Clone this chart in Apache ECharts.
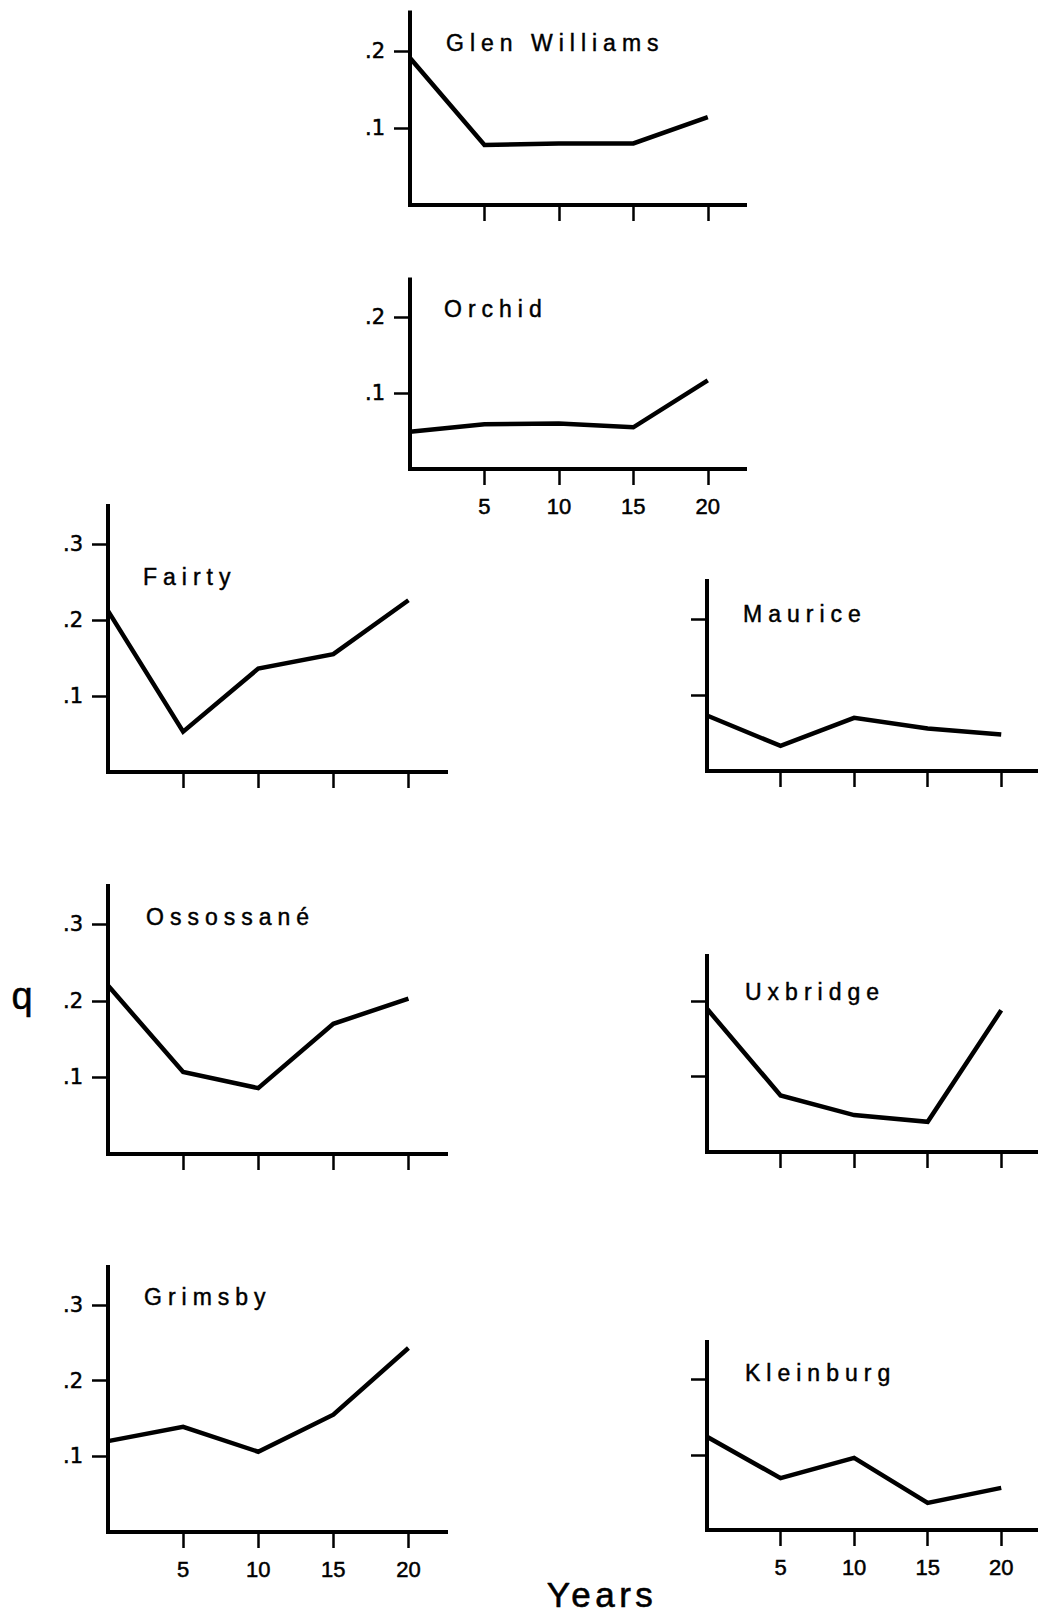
<!DOCTYPE html>
<html>
<head>
<meta charset="utf-8">
<script src="https://cdn.jsdelivr.net/npm/echarts@6/dist/echarts.min.js"></script>
<style>
  html, body { margin: 0; padding: 0; background: #fff; }
  #chart { width: 1038px; height: 1615px; }
</style>
</head>
<body>
<div id="chart"></div>
<script>
// ---- data ----
var years = [0, 5, 10, 15, 20];
var xTickValues = [5, 10, 15, 20];
var yTickValues = [0.1, 0.2, 0.3];
var yTickLabels = ['.1', '.2', '.3'];

var siteNames = ['Glen Williams', 'Orchid', 'Fairty', 'Maurice', 'Ossossané', 'Uxbridge', 'Grimsby', 'Kleinburg'];
var glenWilliams = [0.191, 0.078, 0.080, 0.080, 0.114];
var orchid       = [0.049, 0.059, 0.060, 0.055, 0.117];
var fairty       = [0.212, 0.053, 0.136, 0.155, 0.226];
var maurice      = [0.073, 0.033, 0.070, 0.056, 0.048];
var ossossane    = [0.220, 0.107, 0.086, 0.170, 0.203];
var uxbridge     = [0.190, 0.075, 0.049, 0.040, 0.188];
var grimsby      = [0.120, 0.139, 0.106, 0.155, 0.243];
var kleinburg    = [0.124, 0.069, 0.096, 0.036, 0.056];
var siteValues = [glenWilliams, orchid, fairty, maurice, ossossane, uxbridge, grimsby, kleinburg];

var yAxisName = 'q';
var xAxisName = 'Years';

// ---- layout (pixels) ----
var panels = [
  { left: 410, top: 12.5, width: 335, height: 192.5, ymax: 0.25, yLabels: true,  xLabels: false, tx: 446, ty: 43 },
  { left: 410, top: 279.5, width: 335, height: 189.5, ymax: 0.25, yLabels: true,  xLabels: true,  tx: 444, ty: 309 },
  { left: 108, top: 506, width: 338, height: 266, ymax: 0.35, yLabels: true,  xLabels: false, tx: 143, ty: 577 },
  { left: 707, top: 581, width: 338, height: 190, ymax: 0.25, yLabels: false, xLabels: false, tx: 743, ty: 614 },
  { left: 108, top: 886, width: 338, height: 268, ymax: 0.35, yLabels: true,  xLabels: false, tx: 146, ty: 917 },
  { left: 707, top: 956, width: 336, height: 196, ymax: 0.26, yLabels: false, xLabels: false, tx: 745, ty: 992 },
  { left: 108, top: 1267, width: 338, height: 265, ymax: 0.35, yLabels: true,  xLabels: true,  tx: 144, ty: 1297 },
  { left: 707, top: 1342, width: 336, height: 188, ymax: 0.25, yLabels: false, xLabels: true,  tx: 745, ty: 1373 }
];

var grids = [], xAxes = [], yAxes = [], series = [], graphics = [];
panels.forEach(function (p, i) {
  grids.push({ left: p.left, top: p.top, width: p.width, height: p.height, containLabel: false });
  var yVals = yTickValues.filter(function (v) { return v <= p.ymax; });
  xAxes.push({
    type: 'value', gridIndex: i, min: 0, max: 22.5,
    axisLine: { show: true, lineStyle: { color: '#000', width: 4, cap: 'square' } },
    axisTick: { show: true, inside: false, length: 16, customValues: xTickValues, lineStyle: { color: '#000', width: 2.5 } },
    axisLabel: {
      show: p.xLabels, customValues: xTickValues, margin: 26, color: '#000',
      fontFamily: 'Liberation Sans', fontSize: 22,
      textBorderColor: '#000', textBorderWidth: 0.5
    },
    splitLine: { show: false }
  });
  yAxes.push({
    type: 'value', gridIndex: i, min: 0, max: p.ymax,
    axisLine: { show: true, lineStyle: { color: '#000', width: 4, cap: 'square' } },
    axisTick: { show: true, inside: false, length: 16, customValues: yVals, lineStyle: { color: '#000', width: 2.5 } },
    axisLabel: {
      show: p.yLabels, customValues: yVals, margin: 25, color: '#000',
      fontFamily: 'DejaVu Sans', fontSize: 21, padding: [7, 0, 0, 0],
      textBorderColor: '#000', textBorderWidth: 0.5,
      formatter: function (v) {
        var k = yTickValues.findIndex(function (t) { return Math.abs(t - v) < 1e-6; });
        return k >= 0 ? yTickLabels[k] : '';
      }
    },
    splitLine: { show: false }
  });
  series.push({
    type: 'line', name: siteNames[i], xAxisIndex: i, yAxisIndex: i,
    data: years.map(function (x, k) { return [x, siteValues[i][k]]; }),
    showSymbol: false, symbol: 'none', silent: true, clip: false,
    lineStyle: { color: '#000', width: 4.5, join: 'miter' }
  });
  graphics.push({
    type: 'text', x: p.tx, y: p.ty, silent: true,
    style: { text: siteNames[i], fill: '#000', stroke: '#000', lineWidth: 0.45, font: '23px "Liberation Sans"', textAlign: 'left', textVerticalAlign: 'middle' }
  });
});

graphics.push({
  type: 'text', x: 22, y: 996, silent: true,
  style: { text: yAxisName, fill: '#000', stroke: '#000', lineWidth: 0.5, font: '38px "Liberation Sans"', textAlign: 'center', textVerticalAlign: 'middle' }
});
graphics.push({
  type: 'text', x: 602, y: 1594, silent: true,
  style: { text: xAxisName, fill: '#000', stroke: '#000', lineWidth: 0.6, font: '35px "Liberation Sans"', textAlign: 'center', textVerticalAlign: 'middle' }
});

var chart = echarts.init(document.getElementById('chart'), null, { renderer: 'svg', width: 1038, height: 1615 });
chart.setOption({
  animation: false,
  backgroundColor: '#fff',
  grid: grids,
  xAxis: xAxes,
  yAxis: yAxes,
  series: series,
  graphic: graphics
});

function applySpacing() {
  var texts = document.querySelectorAll('#chart text');
  texts.forEach(function (t) {
    var s = t.textContent;
    if (siteNames.indexOf(s) >= 0) t.setAttribute('letter-spacing', '6');
    else if (s === xAxisName) t.setAttribute('letter-spacing', '4.5');
  });
}
chart.on('finished', applySpacing);
applySpacing();
setTimeout(applySpacing, 50);
</script>
</body>
</html>
